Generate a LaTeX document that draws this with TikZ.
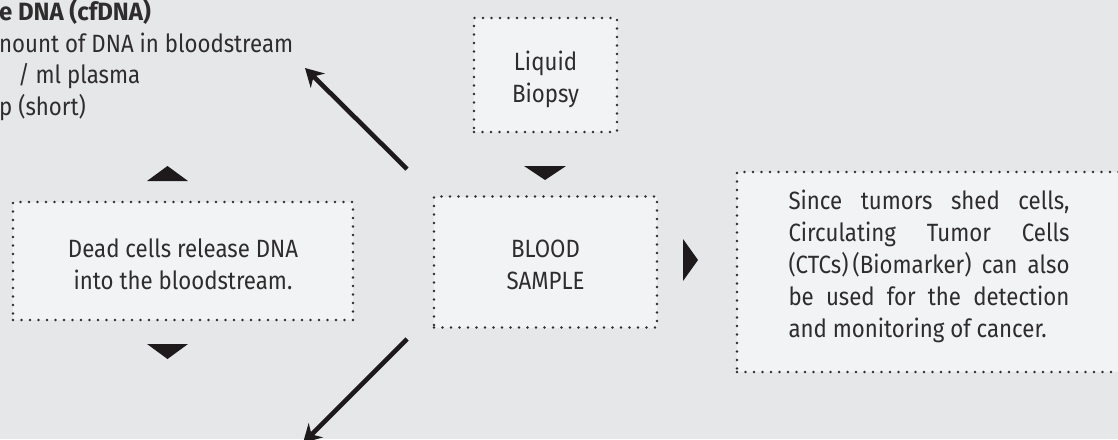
\documentclass[tikz,border=0pt]{standalone}
\usepackage{fontspec}
\setmainfont{Fira Sans}[FakeStretch=0.89, BoldFeatures={FakeStretch=0.96}]
\usetikzlibrary{arrows.meta}
\definecolor{bg}{HTML}{E6E7E9}
\definecolor{boxfill}{HTML}{F2F3F4}
\definecolor{ink}{HTML}{2E2C2D}
\definecolor{arrowc}{HTML}{1E1A1B}
\tikzset{
  dotbox/.style={draw=ink, fill=boxfill, line width=2.6pt, line cap=round,
    dash pattern=on 0pt off 8.5pt, inner sep=0pt},
  boxtext/.style={inner sep=0pt, text=ink,
    font=\fontsize{25}{32}\selectfont, align=center},
  bigarrow/.style={draw=arrowc, line width=4.6pt,
    -{Stealth[length=18pt,width=20pt,inset=6pt]}},
  tri/.style={fill=arrowc, draw=none}
}
\newcommand{\jline}[1]{\makebox[281pt][s]{#1}}
\begin{document}
\begin{tikzpicture}[x=1pt,y=-1pt]
\useasboundingbox (0,0) rectangle (1118,439);
\fill[bg] (0,0) rectangle (1118,439);
\clip (0,0) rectangle (1118,439);

% top-left text
\node[anchor=north west, inner sep=0pt, align=left, text=ink,
  font=\fontsize{25}{31.5}\selectfont] (cf) at (-1,-1)
  {\textbf{e DNA (cfDNA)}\\nount of DNA in bloodstream\\\hspace*{19pt}/ ml plasma\\p (short)};

% boxes
\node[dotbox, minimum width=143pt, minimum height=114pt] (liquid) at (545.5,75) {};
\node[boxtext] (liquidtxt) at (545.5,79) {Liquid\\Biopsy};
\node[dotbox, minimum width=223pt, minimum height=131pt] (blood) at (545.5,262) {};
\node[boxtext] (bloodtxt) at (545.5,265) {BLOOD\\SAMPLE};
\node[dotbox, minimum width=340pt, minimum height=118pt] (dead) at (183,261) {};
\node[boxtext] (deadtxt) at (183,264) {Dead cells release DNA\\into the bloodstream.};
\node[dotbox, minimum width=384pt, minimum height=200pt] (ctc) at (929,272) {};
\node[boxtext, align=left] (ctctxt) at (929,266.5)
  {\jline{Since tumors shed cells,}\\\jline{Circulating Tumor Cells}\\\jline{(CTCs)\,(Biomarker) can also}\\\jline{be used for the detection}\\and monitoring of cancer.};

% triangles
\fill[tri] (524,166) -- (566,166) -- (545,180) -- cycle;
\fill[tri] (147,181) -- (188,181) -- (167.5,166) -- cycle;
\fill[tri] (147,344) -- (188,344) -- (167.5,359) -- cycle;
\fill[tri] (683,239) -- (698,260) -- (683,281) -- cycle;

% arrows
\coordinate (a1s) at (407,169);
\coordinate (a1e) at (305,68);
\coordinate (a2s) at (407,339);
\coordinate (a2e) at (303,443);
\draw[bigarrow] (a1s) -- (a1e);
\draw[bigarrow] (a2s) -- (a2e);
\end{tikzpicture}
\end{document}
